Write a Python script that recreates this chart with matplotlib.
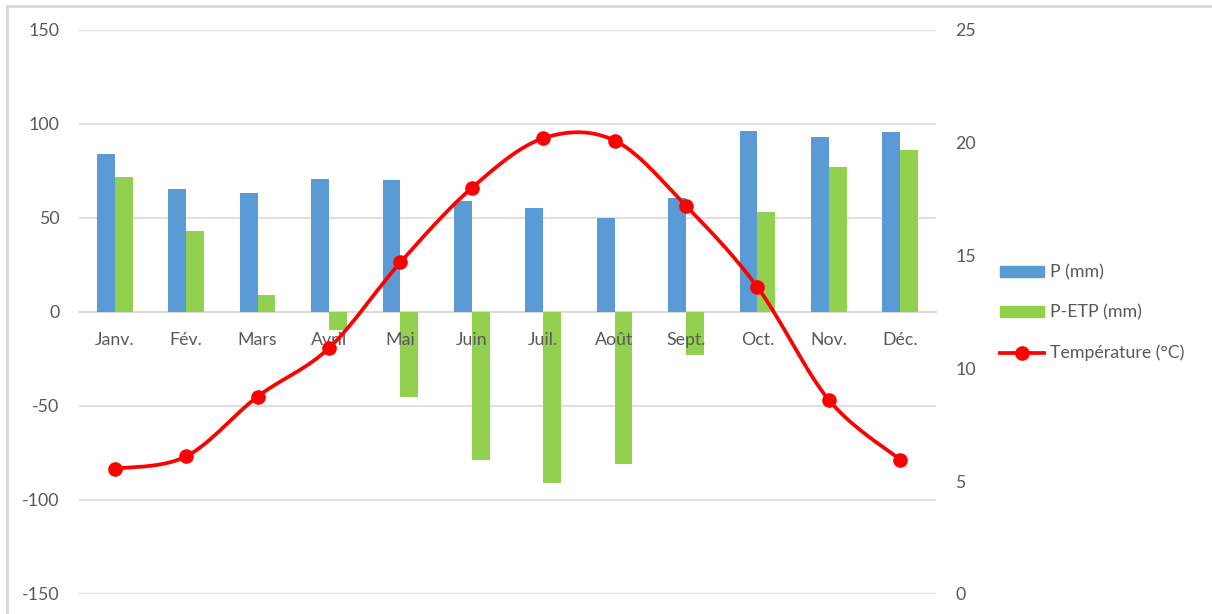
import numpy as np
import matplotlib
matplotlib.use('Agg')
import matplotlib.pyplot as plt
from matplotlib.lines import Line2D

plt.rcParams['font.family'] = ['Lato', 'DejaVu Sans']

# Data
months = ['Janv.', 'Fév.', 'Mars', 'Avril', 'Mai', 'Juin',
          'Juil.', 'Août', 'Sept.', 'Oct.', 'Nov.', 'Déc.']
p_mm = [84, 65.5, 63.5, 71, 70, 59, 55.5, 50, 60.5, 96.5, 93, 96]
p_etp_mm = [72, 43, 9, -9.5, -45, -78.5, -91, -81, -23, 53, 77, 86]
temperature = [5.55, 6.1, 8.75, 10.9, 14.7, 18.0, 20.2, 20.1, 17.2, 13.6, 8.6, 5.95]

left_ticks = [-150, -100, -50, 0, 50, 100, 150]
right_ticks = [0, 5, 10, 15, 20, 25]

blue = '#5b9bd5'
green = '#92d050'
red = '#ff0000'
text_grey = '#595959'
grid_grey = '#d9d9d9'


# Catmull-Rom style smoothing, close to Excel's "smoothed line"
def smooth(x, y, steps=30):
    x = np.asarray(x, float)
    y = np.asarray(y, float)
    px = np.concatenate([[x[0]], x, [x[-1]]])
    py = np.concatenate([[y[0]], y, [y[-1]]])
    xs, ys = [], []
    for i in range(1, len(px) - 2):
        t = np.linspace(0, 1, steps)
        for arr, out in ((px, xs), (py, ys)):
            p0, p1, p2, p3 = arr[i - 1], arr[i], arr[i + 1], arr[i + 2]
            m1 = (p2 - p0) / 2
            m2 = (p3 - p1) / 2
            h00 = 2 * t**3 - 3 * t**2 + 1
            h10 = t**3 - 2 * t**2 + t
            h01 = -2 * t**3 + 3 * t**2
            h11 = t**3 - t**2
            out.extend(h00 * p1 + h10 * m1 + h01 * p2 + h11 * m2)
    return np.array(xs), np.array(ys)


fig = plt.figure(figsize=(12.12, 6.14), dpi=100)
ax = fig.add_axes([79 / 1212, 1 - 594 / 614, (936 - 79) / 1212, (594 - 30) / 614])

x = np.arange(len(months))
w = 0.25
ax.bar(x - w / 2, p_mm, width=w, color=blue, zorder=2)
ax.bar(x + w / 2, p_etp_mm, width=w, color=green, zorder=2)

ax.set_xlim(-0.5, len(months) - 0.5)
ax.set_ylim(-150, 150)
ax.set_yticks(left_ticks)
ax.set_yticklabels([str(v) for v in left_ticks])
ax.yaxis.grid(True, color=grid_grey, linewidth=1.2, zorder=0)
ax.set_axisbelow(True)

for s in ['top', 'left', 'right']:
    ax.spines[s].set_visible(False)
ax.spines['bottom'].set_position(('data', 0))
ax.spines['bottom'].set_color(grid_grey)
ax.spines['bottom'].set_linewidth(1.2)
ax.spines['bottom'].set_zorder(1)

ax.set_xticks(x)
ax.set_xticklabels(months)
ax.tick_params(axis='x', length=0, pad=14.5, labelsize=12.8, labelcolor=text_grey)
ax.tick_params(axis='y', length=0, pad=14, labelsize=12.8, labelcolor=text_grey)
# month labels sit on top of the bars
ax.xaxis.set_zorder(5)

ax2 = ax.twinx()
ax2.set_ylim(0, 25)
ax2.set_yticks(right_ticks)
ax2.tick_params(axis='y', length=0, pad=14, labelsize=12.8, labelcolor=text_grey)
for s in ax2.spines.values():
    s.set_visible(False)

sx, sy = smooth(x, temperature)
ax2.plot(sx, sy, color=red, linewidth=2.7, zorder=3, solid_capstyle='round')
ax2.plot(x, temperature, linestyle='none', marker='o', markersize=9.5,
         color=red, zorder=4)

handles = [
    plt.Rectangle((0, 0), 1, 1, color=blue),
    plt.Rectangle((0, 0), 1, 1, color=green),
    Line2D([], [], color=red, linewidth=2.7, marker='o', markersize=9.5),
]
labels = ['P (mm)', 'P-ETP (mm)', 'Température (°C)']
fig.legend(handles, labels, loc='center left',
           bbox_to_anchor=(984 / 1212, 1 - 313 / 614),
           frameon=False, fontsize=12.8, labelcolor=text_grey,
           handlelength=2.5, handleheight=0.55, handletextpad=0.3,
           labelspacing=1.35)

# light frame around the chart area (cut off at the right and bottom)
fig.add_artist(Line2D([7 / 1212, 7 / 1212], [0, 1 - 6 / 614],
                      transform=fig.transFigure, color='#d9d9d9', linewidth=2))
fig.add_artist(Line2D([7 / 1212, 1], [1 - 6 / 614, 1 - 6 / 614],
                      transform=fig.transFigure, color='#d9d9d9', linewidth=2))

fig.savefig('out.png', dpi=100)
